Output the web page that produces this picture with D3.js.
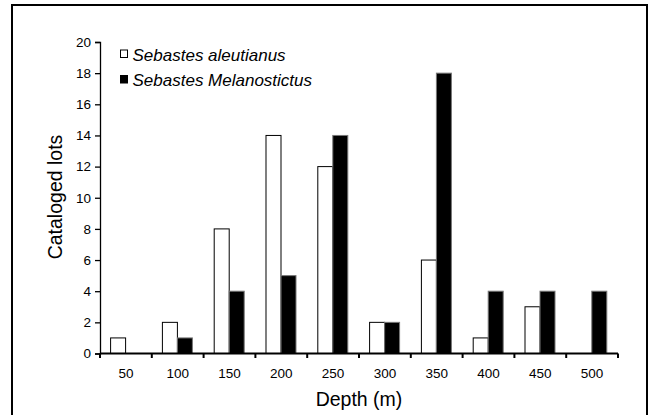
<!DOCTYPE html>
<html>
<head>
<meta charset="utf-8">
<script src="https://cdn.jsdelivr.net/npm/d3@7"></script>
<style>
  html, body { margin: 0; padding: 0; background: #fff; }
  svg { display: block; font-family: "Liberation Sans", Arial, Helvetica, sans-serif; }
</style>
</head>
<body>
<svg id="chart" width="650" height="415"></svg>
<script>
const depths = ["50", "100", "150", "200", "250", "300", "350", "400", "450", "500"];
const seriesNames = ["Sebastes aleutianus", "Sebastes Melanostictus"];
const aleutianus = [1, 2, 8, 14, 12, 2, 6, 1, 3, 0];
const melanostictus = [0, 1, 4, 5, 14, 2, 18, 4, 4, 4];
const yTicks = [0, 2, 4, 6, 8, 10, 12, 14, 16, 18, 20];

const fills = ["#ffffff", "#000000"];
const seriesValues = [aleutianus, melanostictus];

const svg = d3.select("#chart");

// outer frame
svg.append("rect")
  .attr("x", 12).attr("y", 5)
  .attr("width", 635).attr("height", 420)
  .attr("fill", "none").attr("stroke", "#000").attr("stroke-width", 2);

const mLeft = 100, mRight = 618, mTop = 42, mBottom = 353.5;

const x0 = d3.scaleBand().domain(depths).range([mLeft, mRight]).padding(0);
const x1 = d3.scaleBand().domain(seriesNames).range([10.6, 40.6]).padding(0);
const y = d3.scaleLinear().domain([0, 20]).range([mBottom, mTop]);

// bars
const groups = svg.append("g").selectAll("g")
  .data(depths)
  .join("g")
  .attr("transform", d => `translate(${x0(d)},0)`);

groups.selectAll("rect")
  .data((d, i) => seriesNames.map((s, k) => ({ s, k, v: seriesValues[k][i] })).filter(o => o.v > 0))
  .join("rect")
  .attr("x", o => x1(o.s))
  .attr("width", x1.bandwidth())
  .attr("y", o => y(o.v))
  .attr("height", o => y(0) - y(o.v))
  .attr("fill", o => fills[o.k])
  .attr("stroke", o => o.k === 0 ? "#000" : "#777")
  .attr("stroke-width", 1);

// y axis
const yAxis = d3.axisLeft(y).tickValues(yTicks).tickSize(5).tickPadding(4).tickFormat(d3.format("d"));
const gy = svg.append("g").attr("transform", `translate(${mLeft},0)`).call(yAxis);
gy.select(".domain").attr("stroke", "#000").attr("stroke-width", 1.3);
gy.selectAll(".tick line").attr("stroke", "#000").attr("stroke-width", 1.3);
gy.selectAll(".tick text").attr("font-size", 13.5).attr("fill", "#000")
  .attr("font-family", "Liberation Sans, Arial, sans-serif");

// x axis (ticks at category boundaries)
const gx = svg.append("g").attr("transform", `translate(0,${mBottom})`);
gx.append("line").attr("x1", mLeft).attr("x2", mRight).attr("y1", 0).attr("y2", 0)
  .attr("stroke", "#000").attr("stroke-width", 2.2);
const boundaries = depths.map(d => x0(d)).concat([mRight]);
gx.selectAll("line.tk").data(boundaries).join("line").attr("class", "tk")
  .attr("x1", d => d).attr("x2", d => d).attr("y1", 0).attr("y2", 4.5)
  .attr("stroke", "#000").attr("stroke-width", 2);
gx.selectAll("text").data(depths).join("text")
  .attr("x", d => x0(d) + x0.bandwidth() / 2)
  .attr("y", 24.5)
  .attr("text-anchor", "middle")
  .attr("font-size", 13.5)
  .attr("fill", "#000")
  .text(d => d);

// axis titles
svg.append("text")
  .attr("x", (mLeft + mRight) / 2).attr("y", 405.5)
  .attr("text-anchor", "middle").attr("font-size", 19.5).attr("fill", "#000")
  .text("Depth (m)");
svg.append("text")
  .attr("transform", `translate(62,197) rotate(-90)`)
  .attr("text-anchor", "middle").attr("font-size", 19.5).attr("fill", "#000")
  .text("Cataloged lots");

// legend
const legend = svg.append("g");
const rows = [60.5, 86];
seriesNames.forEach((s, k) => {
  legend.append("rect")
    .attr("x", 120.5).attr("y", rows[k] - 10.5)
    .attr("width", 7).attr("height", 7.5)
    .attr("fill", fills[k]).attr("stroke", "#000").attr("stroke-width", 1);
  legend.append("text")
    .attr("x", 132.5).attr("y", rows[k])
    .attr("font-size", 17).attr("font-style", "italic").attr("fill", "#000")
    .text(s);
});
</script>
</body>
</html>
